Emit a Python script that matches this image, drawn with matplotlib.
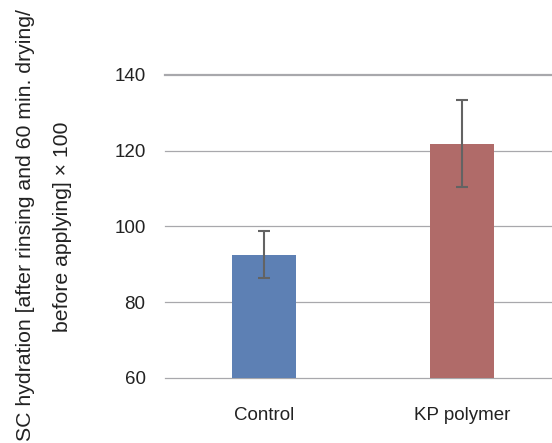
import matplotlib
matplotlib.use('Agg')
import matplotlib.pyplot as plt

# -----------------------------------------------------------------------------
# values

categories = ['Control', 'KP polymer']
means = [92.6, 121.8]
errors = [6.2, 11.5]
bar_colors = ['#5d80b4', '#b06b69']
y_ticks = [60, 80, 100, 120, 140]

# -----------------------------------------------------------------------------

plt.rcParams['font.family'] = ['Liberation Sans', 'DejaVu Sans']

fig = plt.figure(figsize=(5.52, 4.43), dpi=100)
# axes runs a little past the right edge of the figure, as in the original
ax = fig.add_axes([165 / 552, 65 / 443, 396 / 552, 303 / 443])

x = list(range(len(categories)))
ax.bar(x, [m - 60 for m in means], bottom=60, width=0.32, color=bar_colors,
       zorder=3)
ax.errorbar(x, means, yerr=errors, fmt='none', ecolor='#636363',
            elinewidth=1.5, capsize=4, capthick=1.5, zorder=4)

ax.set_xlim(-0.5, 1.5)
ax.set_ylim(60, 140)
ax.set_yticks(y_ticks)
ax.set_xticks(x)
ax.set_xticklabels(categories)

for t in y_ticks:
    lw = 1.6 if t == 140 else 0.9
    ax.axhline(t, color='#a8a8ac', lw=lw, zorder=1, clip_on=False)

for s in ax.spines.values():
    s.set_visible(False)
ax.tick_params(axis='both', length=0, labelsize=13.5, colors='#222222')
ax.tick_params(axis='x', pad=21)
ax.tick_params(axis='y', pad=14)

# two-line y label
fig.text(26 / 552, 1 - 225 / 443,
         'SC hydration [after rinsing and 60 min. drying/',
         rotation=90, ha='center', va='center', fontsize=15.3,
         color='#222222')
fig.text(62 / 552, 1 - 227 / 443, 'before applying] \u00d7 100',
         rotation=90, ha='center', va='center', fontsize=15.3,
         color='#222222')

fig.savefig('out.png', dpi=100)
